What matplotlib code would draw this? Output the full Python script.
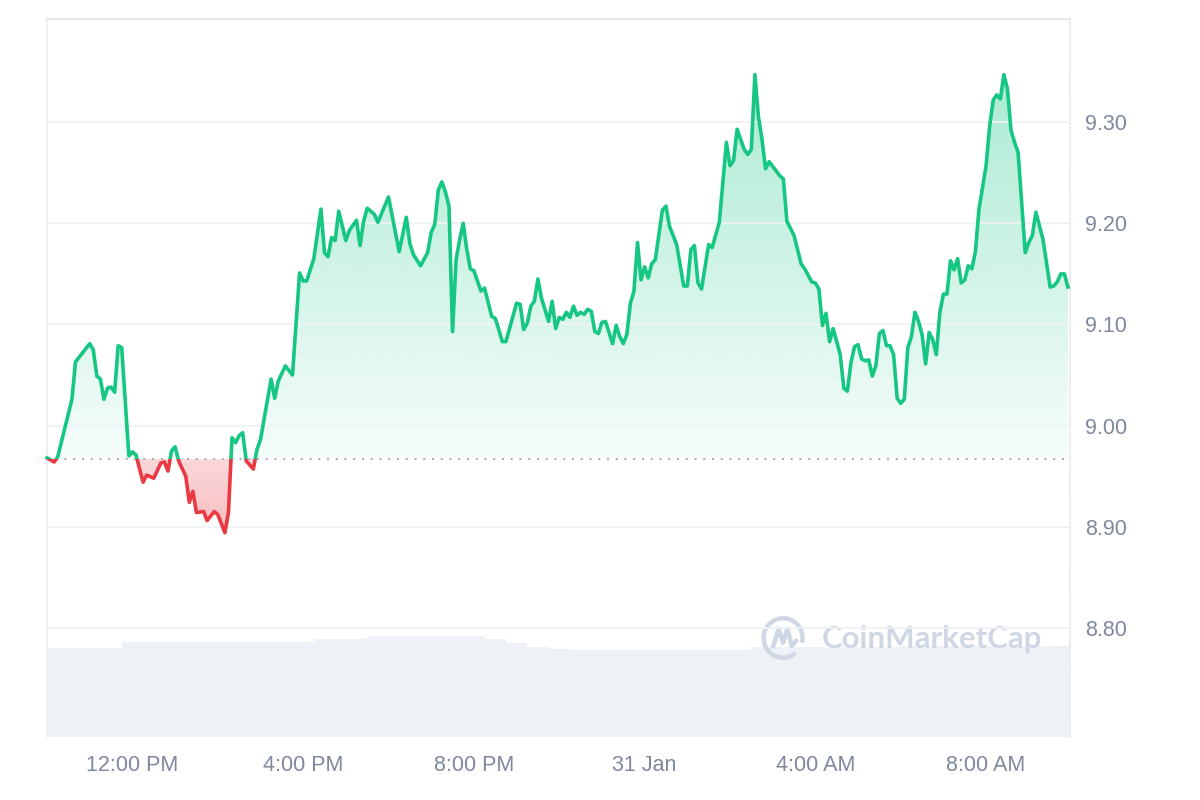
import numpy as np
import matplotlib
matplotlib.use('Agg')
import matplotlib.pyplot as plt
import matplotlib.colors as mcolors
from matplotlib.path import Path
from matplotlib.patches import Rectangle, Arc

# price samples: 5-minute steps since 10:00 AM (30 Jan)
steps = [0, 2, 3, 7, 8, 10, 12, 13, 14, 15,
         16, 17, 18, 19, 20, 21, 23, 24, 25, 27,
         28, 30, 32, 33, 34, 35, 36, 37, 39, 40,
         41, 42, 44, 45, 47, 48, 50, 51, 52, 53,
         54, 55, 56, 58, 59, 60, 63, 64, 65, 67,
         69, 71, 72, 73, 75, 77, 78, 79, 80, 81,
         82, 84, 85, 87, 88, 89, 90, 92, 93, 96,
         99, 101, 102, 103, 105, 107, 108, 109, 110, 111,
         112, 113, 114, 115, 116, 117, 118, 119, 120, 122,
         123, 125, 126, 127, 128, 129, 132, 133, 134, 135,
         136, 137, 138, 139, 141, 142, 143, 144, 145, 146,
         147, 148, 149, 150, 151, 152, 153, 154, 155, 156,
         157, 159, 160, 161, 162, 163, 164, 165, 166, 167,
         168, 169, 170, 171, 173, 174, 175, 177, 179, 180,
         181, 182, 183, 184, 186, 187, 189, 191, 192, 193,
         194, 196, 197, 198, 199, 200, 201, 202, 203, 206,
         207, 208, 210, 212, 213, 215, 216, 217, 218, 219,
         220, 221, 223, 224, 225, 226, 227, 228, 229, 230,
         231, 232, 233, 234, 235, 236, 237, 238, 239, 240,
         241, 242, 243, 244, 245, 246, 247, 248, 249, 250,
         251, 252, 253, 254, 255, 256, 257, 258, 259, 260,
         261, 262, 264, 265, 266, 267, 268, 269, 270, 271,
         272, 273, 275, 276, 277, 278, 280, 282, 283, 284,
         285, 286, 287]

prices = [8.968, 8.964, 8.969, 9.026, 9.063, 9.072, 9.081, 9.075, 9.049, 9.046,
          9.026, 9.037, 9.038, 9.033, 9.079, 9.077, 8.970, 8.974, 8.971, 8.944,
          8.951, 8.948, 8.963, 8.964, 8.955, 8.975, 8.979, 8.965, 8.950, 8.924,
          8.935, 8.914, 8.915, 8.906, 8.915, 8.912, 8.894, 8.914, 8.988, 8.983,
          8.990, 8.993, 8.965, 8.957, 8.976, 8.986, 9.046, 9.027, 9.044, 9.059,
          9.050, 9.151, 9.143, 9.143, 9.165, 9.214, 9.171, 9.167, 9.186, 9.183,
          9.212, 9.183, 9.193, 9.203, 9.178, 9.202, 9.215, 9.209, 9.201, 9.226,
          9.172, 9.206, 9.180, 9.169, 9.158, 9.171, 9.191, 9.199, 9.233, 9.241,
          9.231, 9.217, 9.093, 9.164, 9.184, 9.200, 9.174, 9.155, 9.153, 9.133,
          9.136, 9.108, 9.106, 9.095, 9.083, 9.083, 9.121, 9.120, 9.095, 9.101,
          9.118, 9.123, 9.145, 9.126, 9.103, 9.123, 9.096, 9.107, 9.105, 9.112,
          9.107, 9.118, 9.109, 9.112, 9.110, 9.115, 9.113, 9.093, 9.091, 9.102,
          9.103, 9.081, 9.099, 9.088, 9.081, 9.090, 9.121, 9.133, 9.181, 9.144,
          9.157, 9.146, 9.160, 9.164, 9.213, 9.217, 9.197, 9.179, 9.138, 9.138,
          9.174, 9.178, 9.141, 9.135, 9.179, 9.176, 9.201, 9.280, 9.257, 9.262,
          9.293, 9.273, 9.268, 9.273, 9.347, 9.305, 9.283, 9.254, 9.261, 9.247,
          9.244, 9.202, 9.188, 9.160, 9.155, 9.142, 9.141, 9.135, 9.099, 9.111,
          9.083, 9.096, 9.070, 9.037, 9.034, 9.062, 9.078, 9.080, 9.066, 9.064,
          9.065, 9.049, 9.059, 9.091, 9.094, 9.079, 9.079, 9.070, 9.027, 9.022,
          9.026, 9.077, 9.088, 9.112, 9.103, 9.090, 9.061, 9.092, 9.085, 9.070,
          9.112, 9.130, 9.130, 9.163, 9.154, 9.165, 9.141, 9.144, 9.158, 9.155,
          9.172, 9.214, 9.257, 9.296, 9.322, 9.327, 9.323, 9.347, 9.333, 9.292,
          9.280, 9.270, 9.171, 9.181, 9.188, 9.211, 9.184, 9.137, 9.138, 9.142,
          9.150, 9.150, 9.137]

open_price = 8.967

# rolling volume (millions), minutes since 10:00 AM
vol_min = [0, 105, 375, 450, 615, 645, 675, 705, 735, 990, 1200, 1438]
volume = [8.9, 9.5, 9.8, 10.1, 9.8, 9.4, 9.0, 8.8, 8.7, 8.95, 9.05, 9.05]

tick_pos = [120, 360, 600, 840, 1080, 1320]
tick_lbl = ['12:00 PM', '4:00 PM', '8:00 PM', '31 Jan', '4:00 AM', '8:00 AM']
price_ticks = [8.80, 8.90, 9.00, 9.10, 9.20, 9.30]

GREEN = '#16c784'
RED = '#ea3943'
LABEL = '#7f889c'

assert len(steps) == len(prices)
t = np.array(steps) * 5.0
p = np.array(prices)

fig = plt.figure(figsize=(12, 8), dpi=100)
ax = fig.add_axes([0.0392, 0.0787, 0.8525, 0.8975])
vax = ax.twinx()

# volume background
vax.fill_between(vol_min, volume, 0, step='post', color='#eef1f5', lw=0)
vax.set_ylim(0, 71.7)
vax.set_yticks([])
for s in vax.spines.values():
    s.set_visible(False)

ax.set_zorder(vax.get_zorder() + 1)
ax.patch.set_visible(False)

# gradient fills above / below open price
def grad_fill(mask, color, a0, a1, lo, hi):
    coll = ax.fill_between(t, p, open_price, where=mask, interpolate=True,
                           facecolor='none', edgecolor='none')
    paths = coll.get_paths()
    if not paths:
        return
    cpath = Path.make_compound_path(*paths)
    img = np.zeros((256, 1, 4))
    img[..., :3] = mcolors.to_rgb(color)
    img[:, 0, 3] = np.linspace(a0, a1, 256)
    im = ax.imshow(img, aspect='auto', origin='lower',
                   extent=[t[0], t[-1], lo, hi], zorder=1, interpolation='bilinear')
    im.set_clip_path(cpath, ax.transData)

grad_fill(p >= open_price, GREEN, 0.04, 0.36, open_price, p.max())
grad_fill(p <= open_price, RED, 0.34, 0.2, p.min(), open_price)

ax.axhline(open_price, color='#a3a9ba', lw=1.4, ls=(0, (1, 3.5)), zorder=2)

up, = ax.plot(t, p, color=GREEN, lw=2.6, zorder=3, solid_joinstyle='round')
dn, = ax.plot(t, p, color=RED, lw=2.6, zorder=3, solid_joinstyle='round')
up.set_clip_path(Rectangle((-100, open_price), 2000, 2, transform=ax.transData))
dn.set_clip_path(Rectangle((-100, open_price - 2), 2000, 2, transform=ax.transData))

ax.set_xlim(0, 1438)
ax.set_ylim(8.692, 9.402)

ax.set_yticks(price_ticks)
ax.set_yticklabels(['%.2f' % v for v in price_ticks])
ax.yaxis.tick_right()
ax.set_xticks(tick_pos)
ax.set_xticklabels(tick_lbl)
ax.tick_params(length=0, labelsize=15.5, labelcolor=LABEL, labelfontfamily='Liberation Sans')
ax.tick_params(axis='y', pad=11)
ax.tick_params(axis='x', pad=13)
ax.grid(axis='y', color='#eff2f5', lw=1.3, zorder=0)

ax.spines['bottom'].set_visible(False)
ax.spines['top'].set_color('#e4e7eb')
ax.spines['top'].set_linewidth(1.5)
ax.spines['left'].set_color('#eceff3')
ax.spines['left'].set_linewidth(1.2)
ax.spines['right'].set_color('#e4e7eb')
ax.spines['right'].set_linestyle((0, (1, 1.5)))
ax.spines['right'].set_linewidth(1.2)

# watermark
wm = '#cfd6e4'
ax.add_patch(Arc((0.7195, 0.138), 0.038, 0.055, theta1=-20, theta2=300,
                 transform=ax.transAxes, color=wm, lw=3.2, zorder=0.5))
ax.plot([0.7100, 0.7152, 0.7195, 0.7238, 0.7280, 0.7322],
        [0.127, 0.151, 0.131, 0.151, 0.127, 0.134],
        transform=ax.transAxes, color=wm, lw=3.2, solid_joinstyle='round', zorder=0.5)
ax.text(0.7575, 0.137, 'CoinMarketCap', transform=ax.transAxes, color=wm,
        fontsize=22.5, fontfamily='Lato', fontweight='bold', va='center', ha='left', zorder=0.5)

fig.savefig('out.png', dpi=100, facecolor='white')
